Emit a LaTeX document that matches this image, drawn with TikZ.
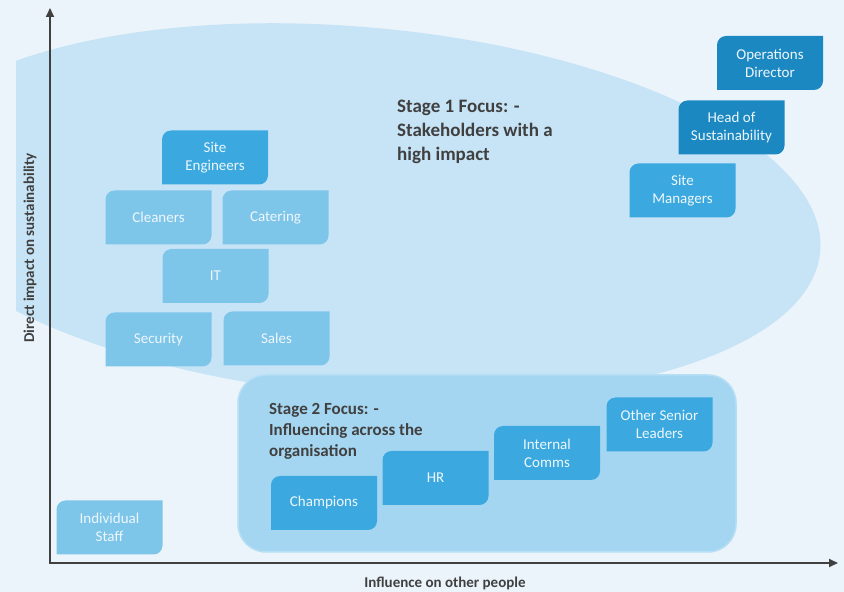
\documentclass[tikz,border=0pt]{standalone}
\usepackage{fontspec}
\setmainfont{Carlito}
\usetikzlibrary{arrows.meta}

\definecolor{bgc}{HTML}{EBF4FB}
\definecolor{zoneA}{HTML}{C7E4F6}
\definecolor{zoneB}{HTML}{A5D6F1}
\definecolor{zoneBline}{HTML}{B6DEF4}
\definecolor{tileLight}{HTML}{7EC5EA}
\definecolor{tileMid}{HTML}{3BA9DF}
\definecolor{tileDark}{HTML}{1C88C1}
\definecolor{tiletext}{HTML}{EEF7FC}
\definecolor{ink}{HTML}{404040}

\tikzset{
  % rectangle with the top-left and bottom-right corners rounded
  tile/.style={
    minimum width=106pt, minimum height=54pt, inner sep=2pt,
    align=center, text=tiletext, font=\fontsize{15}{18}\selectfont,
    path picture={
      \fill[#1]
        ([yshift=-9pt]path picture bounding box.north west)
          arc[start angle=180, end angle=90, radius=9pt]
        -- (path picture bounding box.north east)
        -- ([yshift=9pt]path picture bounding box.south east)
          arc[start angle=0, end angle=-90, radius=9pt]
        -- (path picture bounding box.south west) -- cycle;
    }
  },
  axis/.style={draw=ink, line width=1.8pt, -{Triangle[length=9pt, width=8pt]}},
  axislabel/.style={text=ink, font=\bfseries\fontsize{15}{17}\selectfont},
  focus/.style={text=ink, align=left, anchor=north west, inner sep=0pt}
}

\begin{document}
\begin{tikzpicture}[x=1pt, y=1pt]
  % canvas
  \fill[bgc] (0,0) rectangle (844,592);
  \useasboundingbox (0,0) rectangle (844,592);

  % stage 1 zone: tilted ellipse cut off at the left
  \begin{scope}
    \clip (16,0) rectangle (844,592);
    \fill[zoneA] (357,381) ellipse[x radius=465, y radius=184, rotate=-5];
  \end{scope}

  % stage 2 zone
  \node[draw=zoneBline, line width=1.5pt, fill=zoneB, rounded corners=28pt,
        minimum width=498pt, minimum height=177pt, inner sep=0pt]
        (zone2) at (487,128.5) {};

  % axes
  \coordinate (O) at (50,29);
  \coordinate (ytop) at (50,584);
  \coordinate (xend) at (838,29);
  \draw[axis] (O) -- (ytop);
  \draw[axis, shorten <=-0.9pt] (O) -- (xend);
  \node[axislabel, rotate=90] (ylab) at (30,344) {Direct impact on sustainability};
  \node[axislabel] (xlab) at (445,9) {Influence on other people};

  % focus captions
  \node[focus, font=\bfseries\fontsize{19}{24}\selectfont] (focus1) at (397,492)
    {Stage 1 Focus: -\\Stakeholders with a\\high impact};
  \node[focus, font=\bfseries\fontsize{17}{21}\selectfont] (focus2) at (269,189)
    {Stage 2 Focus: -\\Influencing across the\\organisation};

  % stakeholders with high impact
  \node[tile=tileDark]  (opd) at (770,529)   {Operations\\Director};
  \node[tile=tileDark]  (hos) at (731.5,464.5) {Head of\\Sustainability};
  \node[tile=tileMid]   (sm)  at (682.5,401.5) {Site\\Managers};
  \node[tile=tileMid]   (se)  at (215,434.5) {Site\\Engineers};
  \node[tile=tileLight] (cl)  at (158.5,374.5) {Cleaners};
  \node[tile=tileLight] (ca)  at (275.5,374.5) {Catering};
  \node[tile=tileLight] (it)  at (215.5,316) {IT};
  \node[tile=tileLight] (sec) at (158.5,252.5) {Security};
  \node[tile=tileLight] (sal) at (276.5,253.5) {Sales};
  \node[tile=tileLight] (ind) at (109.5,64.5) {Individual\\Staff};

  % influencers across the organisation
  \node[tile=tileMid] (ch)  at (324,89)    {Champions};
  \node[tile=tileMid] (hr)  at (435.5,114) {HR};
  \node[tile=tileMid] (ic)  at (547,139)   {Internal\\Comms};
  \node[tile=tileMid] (osl) at (659.5,167.5) {Other Senior\\Leaders};
\end{tikzpicture}
\end{document}
